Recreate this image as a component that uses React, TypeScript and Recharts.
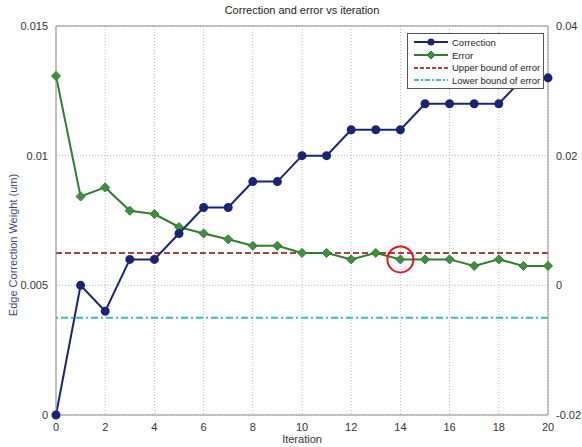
import {
  ComposedChart,
  Line,
  XAxis,
  YAxis,
  CartesianGrid,
  ReferenceLine,
  ReferenceDot,
} from 'recharts'

const iterations = [0, 1, 2, 3, 4, 5, 6, 7, 8, 9, 10, 11, 12, 13, 14, 15, 16, 17, 18, 19, 20]
const correction = [
  0, 0.005, 0.004, 0.006, 0.006, 0.007, 0.008, 0.008, 0.009, 0.009, 0.01,
  0.01, 0.011, 0.011, 0.011, 0.012, 0.012, 0.012, 0.012, 0.013, 0.013,
]
const errorVals = [
  0.0323, 0.0137, 0.0151, 0.0115, 0.011, 0.009, 0.008, 0.0071, 0.0061, 0.0061, 0.005,
  0.005, 0.004, 0.005, 0.004, 0.004, 0.004, 0.003, 0.004, 0.003, 0.003,
]
const upperBound = 0.005
const lowerBound = -0.005
const xTicks = [0, 2, 4, 6, 8, 10, 12, 14, 16, 18, 20]
const leftTicks = [0, 0.005, 0.01, 0.015]
const rightTicks = [-0.02, 0, 0.02, 0.04]
const circledIter = 14

const data = iterations.map((it, i) => ({ it, correction: correction[i], error: errorVals[i] }))

const FONT = '"Liberation Sans", Arial, sans-serif'
const NAVY = '#1b2474'
const GREEN = '#2f7d2f'
const BROWN = '#a4453c'
const CYAN = '#3bbcc0'
const AXIS = '#8c8c8c'
const tick = { fill: '#333', fontSize: 11, fontFamily: FONT }

// green diamond marker like MATLAB's 'd'
const Diamond = (props: any) => {
  const { cx, cy } = props
  if (cx == null || cy == null) return <g />
  const s = 4.5
  return (
    <polygon
      points={`${cx},${cy - s} ${cx + s},${cy} ${cx},${cy + s} ${cx - s},${cy}`}
      fill="#3e8f3e"
      stroke={GREEN}
      strokeWidth={1}
    />
  )
}

// left axis title sits a bit low, like the original figure
const YTitle = (props: any) => {
  const vb = props.viewBox || { x: 0 }
  const x = vb.x + 13
  const y = 245
  return (
    <text
      x={x}
      y={y}
      transform={`rotate(-90 ${x} ${y})`}
      textAnchor="middle"
      dominantBaseline="central"
      fill="#3b467f"
      fontSize={11}
      fontFamily={FONT}
    >
      Edge Correction Weight (um)
    </text>
  )
}

const LegendRow = ({ color, dash, marker, label }: { color: string; dash?: string; marker?: 'o' | 'd'; label: string }) => (
  <div style={{ display: 'flex', alignItems: 'center', height: 12.7, whiteSpace: 'nowrap' }}>
    <svg width={36} height={10} style={{ marginRight: 3, flex: 'none' }}>
      <line x1={1} y1={5} x2={35} y2={5} stroke={color} strokeWidth={2} strokeDasharray={dash} />
      {marker === 'o' && <circle cx={18} cy={5} r={3.5} fill={color} />}
      {marker === 'd' && <polygon points="18,1 22,5 18,9 14,5" fill="#3e8f3e" stroke={color} />}
    </svg>
    <span>{label}</span>
  </div>
)

export default function App() {
  return (
    <div style={{ position: 'absolute', left: 0, top: 0, width: 582, height: 447, background: '#fff', fontFamily: FONT }}>
      <ComposedChart width={582} height={447} data={data} margin={{ top: 26, right: 0, left: 0, bottom: 0 }}>
        <CartesianGrid yAxisId="left" stroke="#b8b8b8" strokeDasharray="1 2" />
        <XAxis
          dataKey="it"
          type="number"
          domain={[0, 20]}
          ticks={xTicks}
          height={32}
          tick={tick}
          tickLine={false}
          axisLine={{ stroke: AXIS }}
          label={{ value: 'Iteration', position: 'insideBottom', offset: 4, style: { fill: '#333', fontSize: 11, fontFamily: FONT } }}
        />
        <YAxis
          yAxisId="left"
          domain={[0, 0.015]}
          ticks={leftTicks}
          width={56}
          tick={tick}
          tickLine={false}
          axisLine={{ stroke: AXIS }}
          tickFormatter={(v: number) => String(v)}
          label={{ content: <YTitle /> }}
        />
        <YAxis
          yAxisId="right"
          orientation="right"
          domain={[-0.02, 0.04]}
          ticks={rightTicks}
          width={34}
          tick={tick}
          tickLine={false}
          axisLine={{ stroke: AXIS }}
          tickFormatter={(v: number) => String(v)}
        />
        <ReferenceLine yAxisId="left" y={0.015} stroke={AXIS} />
        <ReferenceLine yAxisId="right" y={upperBound} stroke={BROWN} strokeWidth={2} strokeDasharray="6 3" />
        <ReferenceLine yAxisId="right" y={lowerBound} stroke={CYAN} strokeWidth={2} strokeDasharray="7 3 2 3" />
        <Line
          yAxisId="right"
          dataKey="error"
          stroke={GREEN}
          strokeWidth={2}
          dot={<Diamond />}
          isAnimationActive={false}
        />
        <Line
          yAxisId="left"
          dataKey="correction"
          stroke={NAVY}
          strokeWidth={2}
          dot={{ r: 3.5, fill: NAVY, stroke: NAVY }}
          isAnimationActive={false}
        />
        <ReferenceDot
          yAxisId="right"
          x={circledIter}
          y={errorVals[circledIter]}
          r={13}
          fill="none"
          stroke="#e8141a"
          strokeWidth={2}
        />
      </ComposedChart>
      <div style={{ position: 'absolute', left: 56, width: 492, top: 4, textAlign: 'center', fontSize: 11, color: '#222' }}>
        Correction and error vs iteration
      </div>
      <div
        style={{
          position: 'absolute',
          left: 407,
          top: 33,
          width: 137,
          height: 56,
          border: '1px solid #555',
          background: '#fff',
          fontSize: 9.5,
          color: '#222',
          padding: '2px 0 0 5px',
          boxSizing: 'border-box',
        }}
      >
        <LegendRow color={NAVY} marker="o" label="Correction" />
        <LegendRow color={GREEN} marker="d" label="Error" />
        <LegendRow color={BROWN} dash="4 2" label="Upper bound of error" />
        <LegendRow color={CYAN} dash="5 2 2 2" label="Lower bound of error" />
      </div>
    </div>
  )
}
